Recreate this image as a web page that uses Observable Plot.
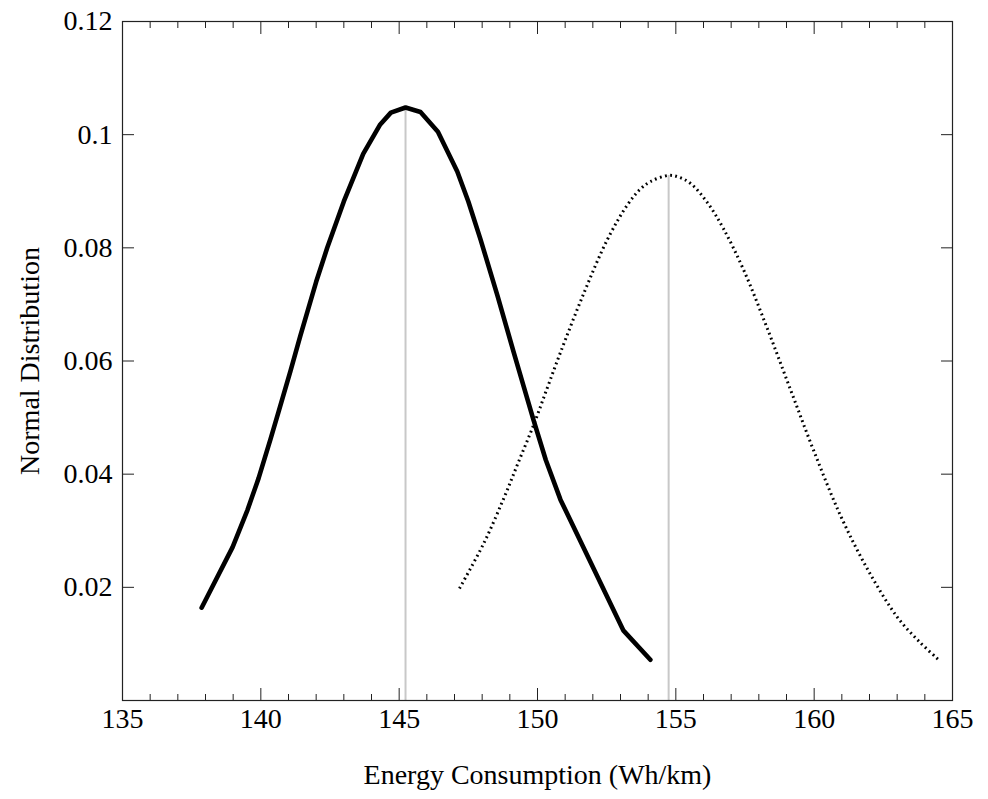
<!DOCTYPE html>
<html>
<head>
<meta charset="utf-8">
<script src="https://cdn.jsdelivr.net/npm/d3@7"></script>
<script src="https://cdn.jsdelivr.net/npm/@observablehq/plot@0.6"></script>
<style>
  html, body { margin: 0; padding: 0; background: #fff; }
  #chart { width: 988px; height: 799px; }
</style>
</head>
<body>
<div id="chart"></div>
<script>
// Tick values
const xMajorTicks = [135, 140, 145, 150, 155, 160, 165];
const xMinorTicks = [136, 137, 138, 139, 141, 142, 143, 144, 146, 147, 148, 149, 151, 152, 153, 154, 156, 157, 158, 159, 161, 162, 163, 164];
const yTicks = [0.02, 0.04, 0.06, 0.08, 0.1, 0.12];

// Axis titles
const xTitle = "Energy Consumption (Wh/km)";
const yTitle = "Normal Distribution";

// Series 1 (solid)
const solidX = [137.86, 138.98, 139.52, 139.92, 140.35, 140.64, 141.07, 141.43, 141.69, 142.0, 142.4, 143.0, 143.7, 144.3, 144.7, 145.23, 145.77, 146.4, 147.1, 147.5, 147.94, 148.55, 149.13, 149.5, 149.86, 150.3, 150.83, 153.1, 154.08];
const solidY = [0.0164, 0.0271, 0.0337, 0.0393, 0.0462, 0.051, 0.0582, 0.0645, 0.0688, 0.074, 0.080, 0.0882, 0.0966, 0.1017, 0.1039, 0.1048, 0.104, 0.1005, 0.0935, 0.0882, 0.0815, 0.0716, 0.0617, 0.0555, 0.0495, 0.0425, 0.0355, 0.0124, 0.0072];

// Series 2 (dotted)
const dottedX = [147.18, 148.05, 148.77, 149.3, 149.86, 150.35, 150.83, 151.66, 152.53, 153.25, 153.7, 154.08, 154.74, 155.1, 155.53, 156.14, 156.72, 157.45, 158.31, 159.14, 159.98, 160.95, 161.93, 163.01, 163.8, 164.5];
const dottedY = [0.0198, 0.0277, 0.0356, 0.042, 0.0487, 0.0552, 0.0615, 0.0718, 0.0815, 0.0876, 0.0903, 0.0917, 0.0928, 0.0925, 0.0914, 0.088, 0.0834, 0.0761, 0.0657, 0.055, 0.0442, 0.0327, 0.0232, 0.0147, 0.0104, 0.0072];

// Mean markers
const meanX = [145.23, 154.74];
const meanPeak = [0.1048, 0.0928];

const solid = solidX.map((x, i) => ({x, y: solidY[i]}));
const dotted = dottedX.map((x, i) => ({x, y: dottedY[i]}));
const means = meanX.map((x, i) => ({x, y: meanPeak[i]}));

const fontSize = 28;
const axisStroke = "#222";

const chart = Plot.plot({
  width: 988,
  height: 799,
  marginLeft: 122,
  marginRight: 36,
  marginTop: 21,
  marginBottom: 99,
  style: {fontFamily: "'Liberation Serif', 'Times New Roman', serif", fontSize: fontSize + "px", background: "#fff", color: "#000"},
  x: {domain: [135, 165]},
  y: {domain: [0, 0.12]},
  marks: [
    Plot.ruleX(means, {x: "x", y1: 0, y2: "y", stroke: "#c8c8c8", strokeWidth: 2}),
    Plot.line(dotted, {x: "x", y: "y", stroke: "#000", strokeWidth: 3, strokeDasharray: "1.8,3.4", strokeLinecap: "butt", curve: "catmull-rom"}),
    Plot.line(solid, {x: "x", y: "y", stroke: "#000", strokeWidth: 4.6}),
    Plot.frame({stroke: axisStroke, strokeWidth: 1.2}),
    Plot.axisX(xMajorTicks, {anchor: "bottom", tickSize: -12, tickPadding: 20, fontSize, label: null, stroke: axisStroke}),
    Plot.axisX(xMinorTicks, {anchor: "bottom", tickSize: -6, tickFormat: () => "", label: null, stroke: axisStroke}),
    Plot.axisX(xMajorTicks, {anchor: "top", tickSize: -12, tickFormat: () => "", label: null, stroke: axisStroke}),
    Plot.axisX(xMinorTicks, {anchor: "top", tickSize: -6, tickFormat: () => "", label: null, stroke: axisStroke}),
    Plot.axisY(yTicks, {anchor: "left", tickSize: -12, tickPadding: 22, fontSize, tickFormat: d => String(d), label: null, stroke: axisStroke}),
    Plot.axisY(yTicks, {anchor: "right", tickSize: -12, tickFormat: () => "", label: null, stroke: axisStroke}),
    Plot.text([xTitle], {frameAnchor: "bottom", dy: 75, lineAnchor: "middle", textAnchor: "middle", fontSize, fill: "#000"}),
    Plot.text([yTitle], {frameAnchor: "left", dx: -92, rotate: -90, lineAnchor: "middle", textAnchor: "middle", fontSize, fill: "#000"})
  ]
});
document.getElementById("chart").appendChild(chart);
</script>
</body>
</html>
